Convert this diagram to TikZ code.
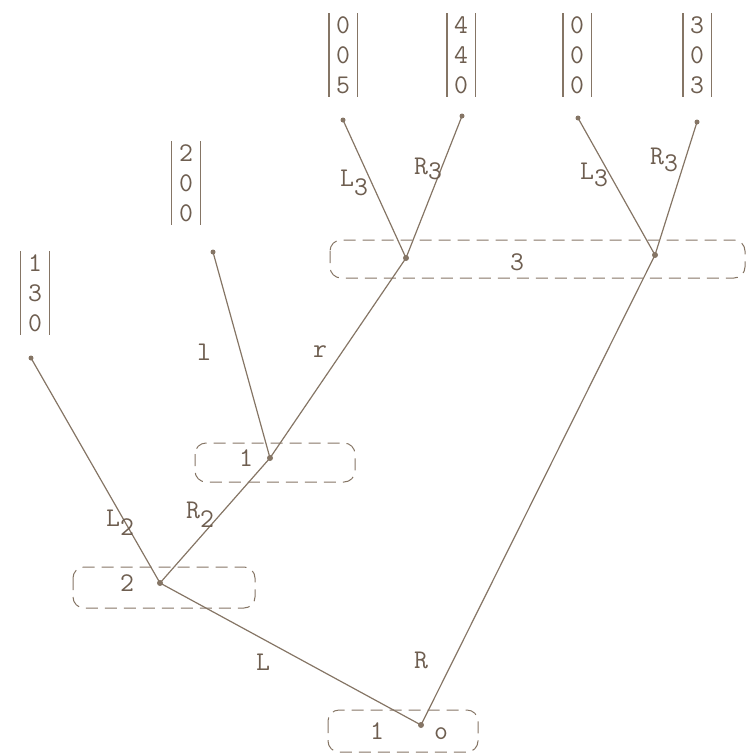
\documentclass[tikz,border=0pt]{standalone}
\usepackage{xcolor}
\definecolor{ink}{HTML}{857565}
\definecolor{txt}{HTML}{6E5E50}
\begin{document}
\begin{tikzpicture}[x=1pt,y=-1pt,
  every node/.style={text=txt,font=\ttfamily\fontsize{27}{30}\selectfont},
  vtx/.style={circle,fill=ink,inner sep=0pt,minimum size=6pt},
  edge/.style={draw=ink,line width=1.2pt},
  infoset/.style={draw=ink,line width=1pt,dash pattern=on 12pt off 7pt,rounded corners=11pt},
  payoff/.style={align=center,inner xsep=7pt,inner ysep=3pt},
  bar/.style={draw=ink,line width=1.3pt},
  lab/.style={inner sep=0pt}]
\useasboundingbox (0,0) rectangle (745,755);
% information sets
\draw[infoset] (328,710) rectangle (478,752);
\draw[infoset] (73,567) rectangle (255,608);
\draw[infoset] (195,443) rectangle (355,482);
\draw[infoset] (330,240) rectangle (745,278);
\node[lab] (i1) at (377,731) {1};
\node[lab] (io) at (441,734) {o};
\node[lab] (i2) at (127,583) {2};
\node[lab] (i1b) at (246,458) {1};
\node[lab] (i3) at (517,262) {3};
% vertices
\node[vtx] (root) at (421,725) {};
\node[vtx] (n2) at (160,583) {};
\node[vtx] (n1) at (270,458) {};
\node[vtx] (n3a) at (406,258) {};
\node[vtx] (n3b) at (655,255) {};
\node[vtx,minimum size=5pt] (t1) at (31,358) {};
\node[vtx,minimum size=5pt] (t2) at (213,252) {};
\node[vtx,minimum size=5pt] (t3) at (343,120) {};
\node[vtx,minimum size=5pt] (t4) at (462,116) {};
\node[vtx,minimum size=5pt] (t5) at (578,118) {};
\node[vtx,minimum size=5pt] (t6) at (697,122) {};
% edges
\draw[edge] (root.center) -- (n2.center);
\draw[edge] (root.center) -- (n3b.center);
\draw[edge] (n2.center) -- (t1.center);
\draw[edge] (n2.center) -- (n1.center);
\draw[edge] (n1.center) -- (t2.center);
\draw[edge] (n1.center) -- (n3a.center);
\draw[edge] (n3a.center) -- (t3.center);
\draw[edge] (n3a.center) -- (t4.center);
\draw[edge] (n3b.center) -- (t5.center);
\draw[edge] (n3b.center) -- (t6.center);
% edge labels
\node[lab] (lL) at (263,662) {L};
\node[lab] (lR) at (421,660) {R};
\node[lab] (lL2) at (120,523) {L\raisebox{-9pt}{2}};
\node[lab] (lR2) at (200,515) {R\raisebox{-9pt}{2}};
\node[lab] (ll) at (204,352) {l};
\node[lab] (lr) at (320,352) {r};
\node[lab] (lL3a) at (354,183) {L\raisebox{-9pt}{3}};
\node[lab] (lR3a) at (428,169) {R\raisebox{-5pt}{3}};
\node[lab] (lL3b) at (594,175) {L\raisebox{-7pt}{3}};
\node[lab] (lR3b) at (664,160) {R\raisebox{-7pt}{3}};
% payoffs
\foreach \n/\x/\y/\a/\b/\c in {p1/35/293/1/3/0, p2/186/183/2/0/0, p3/343/55/0/0/5, p4/461/55/4/4/0, p5/577/55/0/0/0, p6/697/55/3/0/3}{
  \node[payoff] (\n) at (\x,\y) {\a\\\b\\\c};
  \draw[bar] (\n.north west) -- (\n.south west);
  \draw[bar] (\n.north east) -- (\n.south east);
}
\end{tikzpicture}
\end{document}
